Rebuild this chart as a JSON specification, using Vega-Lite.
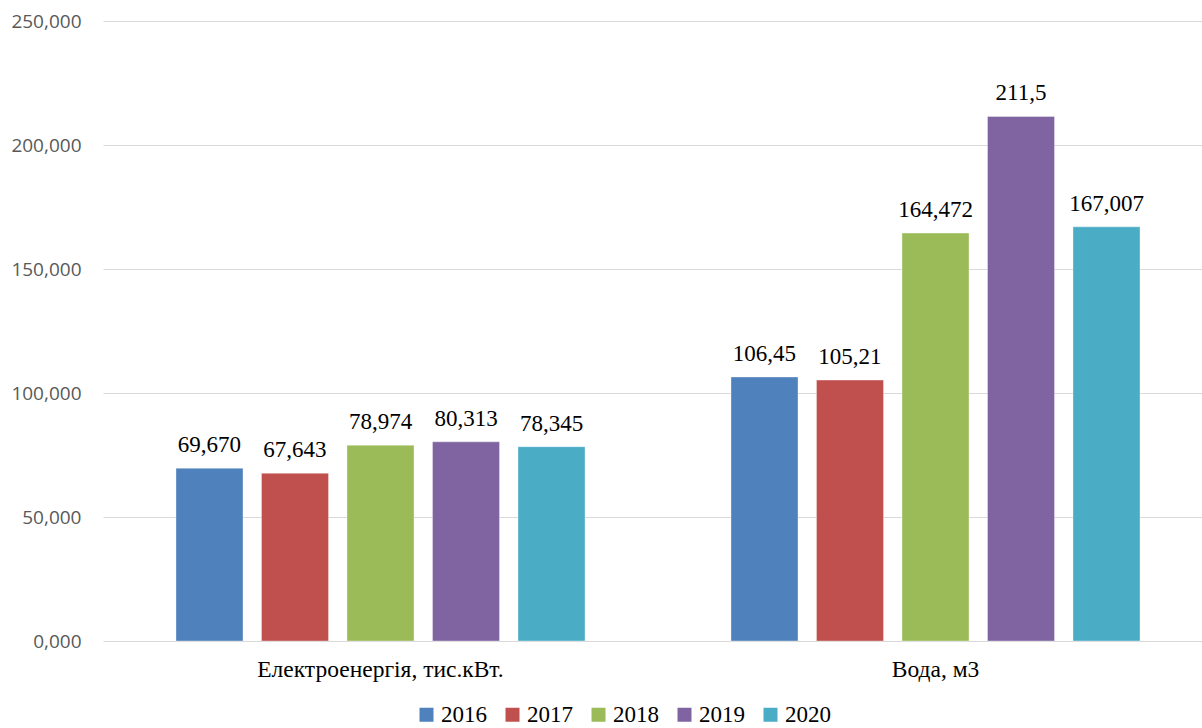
{
  "$schema": "https://vega.github.io/schema/vega-lite/v6.json",
  "width": 1099,
  "height": 620,
  "autosize": {"type": "none"},
  "padding": {"left": 103, "top": 21, "right": 0, "bottom": 87},
  "background": "white",
  "config": {"view": {"stroke": null}},
  "data": {
    "values": [
      {"category": "Електроенергія, тис.кВт.", "year": "2016", "value": 69.670, "label": "69,670"},
      {"category": "Електроенергія, тис.кВт.", "year": "2017", "value": 67.643, "label": "67,643"},
      {"category": "Електроенергія, тис.кВт.", "year": "2018", "value": 78.974, "label": "78,974"},
      {"category": "Електроенергія, тис.кВт.", "year": "2019", "value": 80.313, "label": "80,313"},
      {"category": "Електроенергія, тис.кВт.", "year": "2020", "value": 78.345, "label": "78,345"},
      {"category": "Вода, м3", "year": "2016", "value": 106.45, "label": "106,45"},
      {"category": "Вода, м3", "year": "2017", "value": 105.21, "label": "105,21"},
      {"category": "Вода, м3", "year": "2018", "value": 164.472, "label": "164,472"},
      {"category": "Вода, м3", "year": "2019", "value": 211.5, "label": "211,5"},
      {"category": "Вода, м3", "year": "2020", "value": 167.007, "label": "167,007"}
    ]
  },
  "encoding": {
    "x": {
      "field": "category",
      "type": "nominal",
      "sort": null,
      "title": null,
      "scale": {"range": [0, 1110], "paddingInner": 0.263, "paddingOuter": 0.1315},
      "axis": {
        "domain": false,
        "ticks": false,
        "labelAngle": 0,
        "labelPadding": 16,
        "labelLimit": 0,
        "labelFont": "'Liberation Serif', 'DejaVu Serif', serif",
        "labelFontSize": 23.5,
        "labelColor": "#000000"
      }
    },
    "xOffset": {
      "field": "year",
      "type": "nominal",
      "scale": {"paddingInner": 0.216, "paddingOuter": 0}
    },
    "y": {
      "field": "value",
      "type": "quantitative",
      "title": null,
      "scale": {"domain": [0, 250], "nice": false},
      "axis": {
        "values": [0, 50, 100, 150, 200, 250],
        "labelExpr": "replace(format(datum.value, '.3f'), '.', ',')",
        "domain": false,
        "ticks": false,
        "labelPadding": 22,
        "labelFont": "Open Sans",
        "labelFontSize": 19,
        "labelColor": "#595959",
        "gridColor": "#d9d9d9",
        "gridWidth": 1
      }
    }
  },
  "layer": [
    {
      "mark": {"type": "bar", "stroke": "#ffffff", "strokeWidth": 0.6, "strokeOpacity": 0.6},
      "encoding": {
        "color": {
          "field": "year",
          "type": "nominal",
          "title": null,
          "scale": {
            "domain": ["2016", "2017", "2018", "2019", "2020"],
            "range": ["#4F81BD", "#C0504D", "#9BBB59", "#8064A2", "#4BACC6"]
          },
          "legend": {
            "orient": "none",
            "direction": "horizontal",
            "legendX": 312,
            "legendY": 682,
            "symbolType": "square",
            "symbolSize": 196,
            "symbolStrokeWidth": 0,
            "labelFont": "'Liberation Serif', 'DejaVu Serif', serif",
            "labelFontSize": 23,
            "labelColor": "#000000",
            "labelOffset": 3,
            "columnPadding": 14
          }
        }
      }
    },
    {
      "mark": {
        "type": "text",
        "baseline": "bottom",
        "dy": -11,
        "font": "'Liberation Serif', 'DejaVu Serif', serif",
        "fontSize": 23,
        "color": "#000000"
      },
      "encoding": {
        "text": {"field": "label", "type": "nominal"}
      }
    }
  ]
}
